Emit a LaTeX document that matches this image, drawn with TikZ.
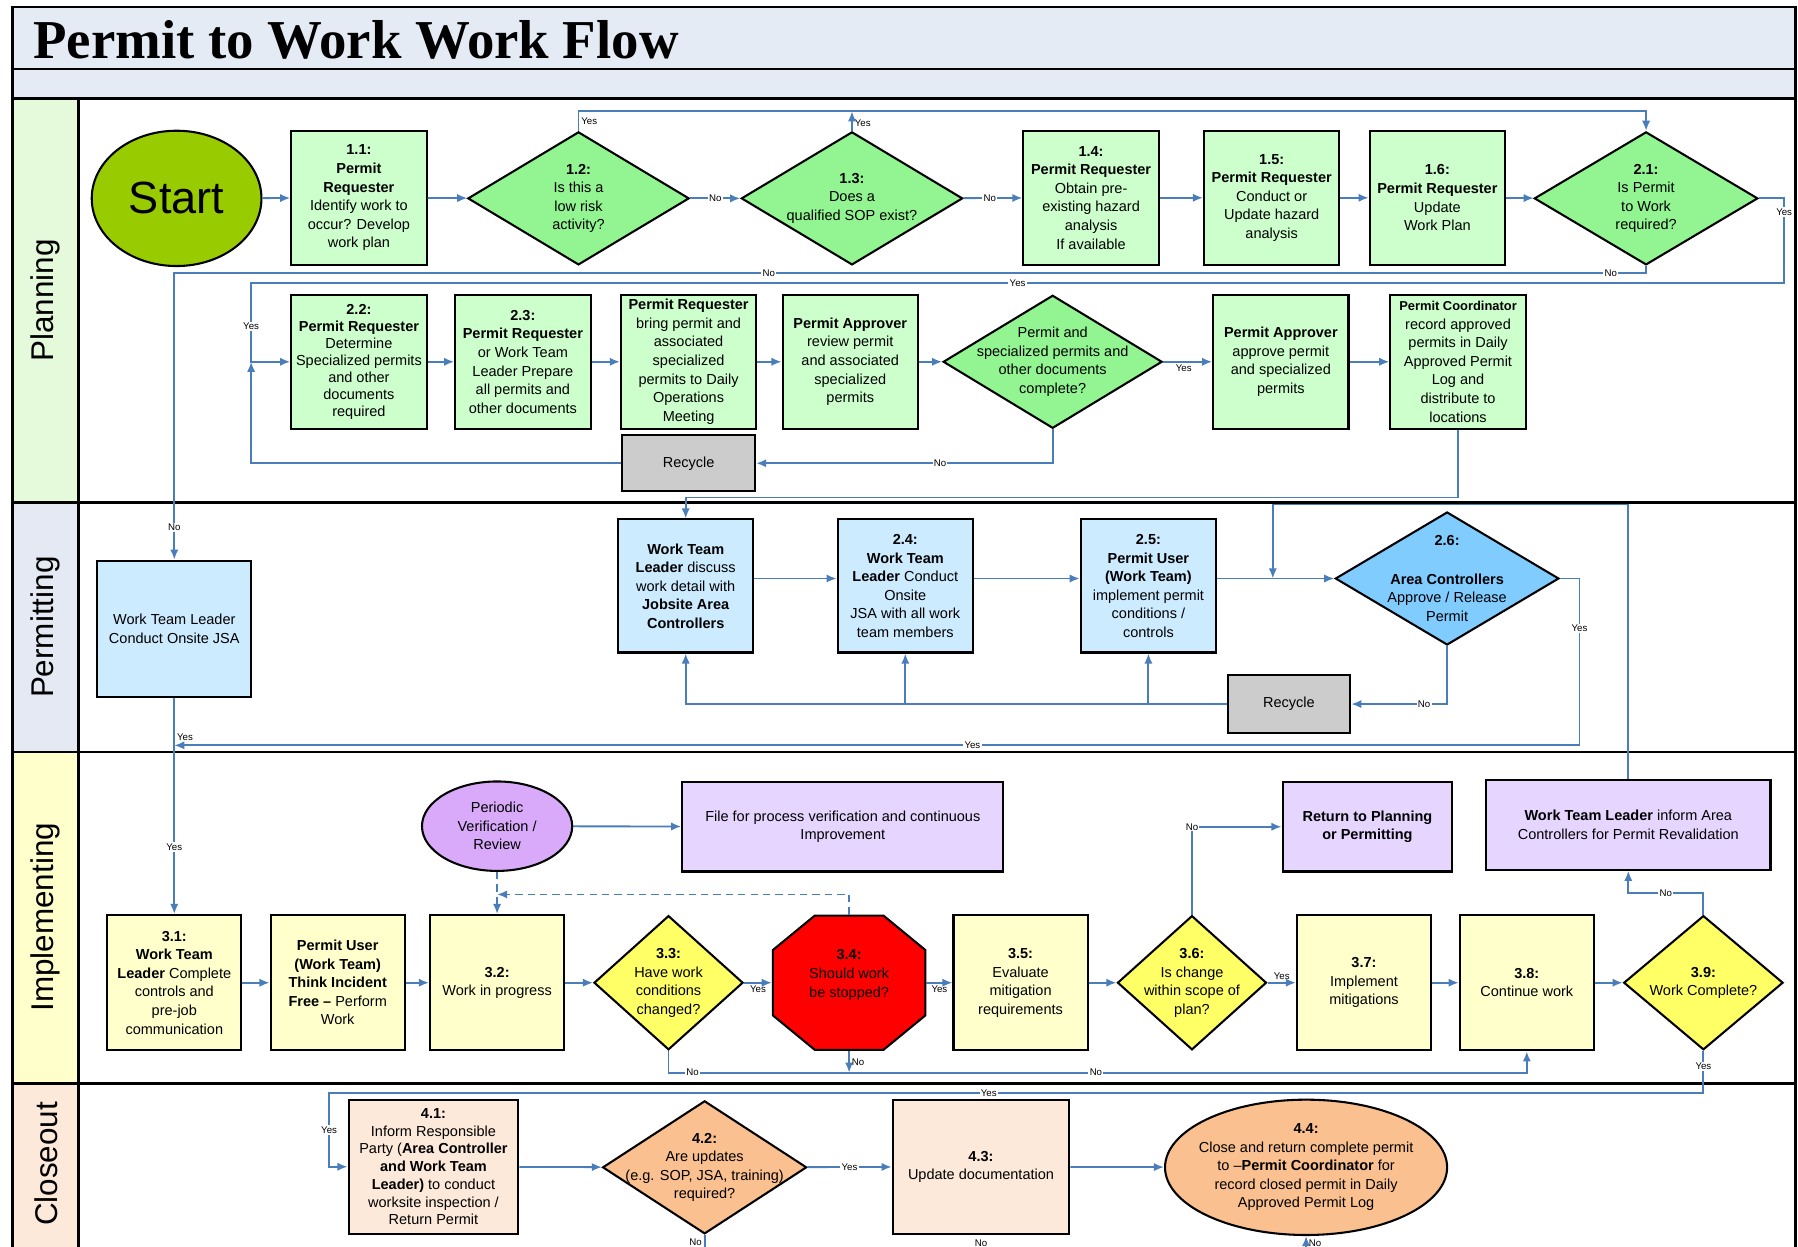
\documentclass[tikz,border=0pt]{standalone}
\usepackage{fontspec}
\setmainfont{Liberation Sans}
\newfontfamily\titlefont{Liberation Serif}
\usetikzlibrary{arrows.meta,shapes.geometric}

\definecolor{flowblue}{HTML}{4A7EBB}
\definecolor{titleblue}{HTML}{E4EBF5}
\definecolor{planfill}{HTML}{E5F9DB}
\definecolor{permfill}{HTML}{E4E9F3}
\definecolor{implfill}{HTML}{FFFFCC}
\definecolor{closefill}{HTML}{FDE9D9}
\definecolor{startgreen}{HTML}{99CC00}
\definecolor{boxgreen}{HTML}{CCFFCC}
\definecolor{diagreen}{HTML}{92F592}
\definecolor{boxblue}{HTML}{CCEBFF}
\definecolor{diablue}{HTML}{80CCFF}
\definecolor{recgray}{HTML}{CCCCCC}
\definecolor{boxyellow}{HTML}{FFFFCC}
\definecolor{diayellow}{HTML}{FFFF66}
\definecolor{stopred}{HTML}{FF0000}
\definecolor{perpurple}{HTML}{DAAAFA}
\definecolor{boxpurple}{HTML}{E6D6FF}
\definecolor{boxpeach}{HTML}{FDE9D9}
\definecolor{diaorange}{HTML}{FAC08F}

\tikzstyle{lane}=[draw=black, line width=0.55mm]
\tikzstyle{lanetitle}=[rotate=90, font=\fontsize{19.5}{20}\selectfont]
\tikzstyle{stepbox}=[rectangle, draw=black, line width=0.45mm, align=center, inner sep=1pt, font=\fontsize{9}{11.5}\selectfont]
\tikzstyle{planbox}=[stepbox, fill=boxgreen, minimum width=29.5mm, minimum height=29.25mm]
\tikzstyle{permbox}=[stepbox, fill=boxblue, minimum width=29.5mm, minimum height=29mm]
\tikzstyle{implbox}=[stepbox, fill=boxyellow, minimum width=29.25mm, minimum height=29.5mm]
\tikzstyle{notebox}=[stepbox, fill=boxpurple, minimum height=19.5mm]
\tikzstyle{closebox}=[stepbox, fill=boxpeach, minimum height=29.25mm]
\tikzstyle{recyclebox}=[stepbox, fill=recgray, minimum width=29mm, minimum height=12.25mm]
\tikzstyle{oval}=[ellipse, draw=black, line width=0.45mm, inner sep=0pt, align=center, font=\fontsize{9}{11.5}\selectfont]
\tikzstyle{decision}=[diamond, draw=black, line width=0.45mm, inner sep=0pt, minimum height=29mm]
\tikzstyle{dtext}=[align=center, font=\fontsize{9}{11.5}\selectfont, inner sep=0pt]
\tikzstyle{flow}=[draw=flowblue, line width=0.4mm, -{Latex[length=2.2mm,width=1.8mm]}]
\tikzstyle{link}=[draw=flowblue, line width=0.4mm]
\tikzstyle{dashflow}=[flow, dash pattern=on 1.6mm off 1.1mm]
\tikzstyle{lbl}=[font=\fontsize{6}{7}\selectfont, fill=white, inner sep=0.8pt]
\tikzstyle{lbs}=[font=\fontsize{6}{7}\selectfont, inner sep=1.2pt]

\newcommand{\planbox}{\node[planbox]}
\newcommand{\permbox}{\node[permbox]}
\newcommand{\implbox}{\node[implbox]}

\begin{document}
\begin{tikzpicture}[x=0.25mm, y=-0.25mm]
\clip (0,0) rectangle (1568,1087);
\fill[white] (0,0) rectangle (1568,1087);

% header bands
\filldraw[lane, fill=titleblue] (11,6) rectangle (1566,60);
\filldraw[lane, fill=titleblue] (11,60) rectangle (1566,86);
\node[anchor=base west, font=\titlefont\bfseries\fontsize{34}{36}\selectfont] (title) at (24,51) {Permit to Work Work Flow};

% swimlanes
\foreach \ya/\yb/\ym/\col/\name in {86/438/262/planfill/Planning, 438/656/547/permfill/Permitting, 656/945/800/implfill/Implementing, 945/1100/1015/closefill/Closeout}{
  \draw[lane] (11,\ya) rectangle (1566,\yb);
  \filldraw[lane, fill=\col] (11,\ya) rectangle (68.5,\yb);
  \node[lanetitle] (lane\name) at (40,\ym) {\name};
}

% planning
\node[oval, fill=startgreen, minimum width=37mm, minimum height=29.5mm, font=\fontsize{28}{30}\selectfont] (start) at (154,173) {Start};
\planbox (n11) at (313,172.5) {\textbf{1.1:}\\\textbf{Permit}\\\textbf{Requester}\\Identify work to\\occur? Develop\\work plan};
\node[decision, fill=diagreen, minimum width=48.25mm, label={[dtext]center:{\textbf{1.2:}\\Is this a\\low risk\\activity?}}] (n12) at (504.5,173) {};
\node[decision, fill=diagreen, minimum width=48.25mm, label={[dtext]center:{\textbf{1.3:}\\Does a\\qualified SOP exist?}}] (n13) at (743,173) {};
\planbox (n14) at (951.5,172.5) {\textbf{1.4:}\\\textbf{Permit Requester}\\Obtain pre-\\existing hazard\\analysis\\If available};
\planbox (n15) at (1109,172.5) {\textbf{1.5:}\\\textbf{Permit Requester}\\Conduct or\\Update hazard\\analysis};
\planbox (n16) at (1253.5,172.5) {\textbf{1.6:}\\\textbf{Permit Requester}\\Update\\Work Plan};
\node[decision, fill=diagreen, minimum width=48.75mm, label={[dtext]center:{\textbf{2.1:}\\Is Permit\\to Work\\required?}}] (n21) at (1435.5,173) {};

\node[planbox, font=\fontsize{9}{10.6}\selectfont] (n22) at (313,315.5) {\textbf{2.2:}\\\textbf{Permit Requester}\\Determine\\Specialized permits\\and other\\documents\\required};
\planbox (n23) at (456,315.5) {\textbf{2.3:}\\\textbf{Permit Requester}\\or Work Team\\Leader Prepare\\all permits and\\other documents};
\planbox (bring) at (600.5,315.5) {\textbf{Permit Requester}\\bring permit and\\associated\\specialized\\permits to Daily\\Operations\\Meeting};
\planbox (review) at (741.5,315.5) {\textbf{Permit Approver}\\review permit\\and associated\\specialized\\permits};
\node[decision, fill=diagreen, minimum width=47.75mm, label={[dtext]center:{Permit and\\specialized permits and\\other documents\\complete?}}] (doccheck) at (918,315.5) {};
\planbox (approve) at (1117,315.5) {\textbf{Permit Approver}\\approve permit\\and specialized\\permits};
\planbox (coord) at (1271.5,315.5) {{\fontsize{8}{9}\selectfont\textbf{Permit Coordinator}}\\record approved\\permits in Daily\\Approved Permit\\Log and\\distribute to\\locations};
\node[recyclebox] (rec1) at (600.5,404) {Recycle};

% permitting
\node[permbox, minimum width=33.5mm, minimum height=29.75mm] (jsa) at (152,548.5) {Work Team Leader\\Conduct Onsite JSA};
\permbox (disc) at (598,511) {\textbf{Work Team}\\\textbf{Leader} discuss\\work detail with\\\textbf{Jobsite Area}\\\textbf{Controllers}};
\permbox (n24) at (789.5,511) {\textbf{2.4:}\\\textbf{Work Team}\\\textbf{Leader} Conduct\\Onsite\\JSA with all work\\team members};
\permbox (n25) at (1001.5,511) {\textbf{2.5:}\\\textbf{Permit User}\\\textbf{(Work Team)}\\implement permit\\conditions /\\controls};
\node[decision, fill=diablue, minimum width=48.75mm, label={[dtext]center:{\textbf{2.6:}\\[4.4mm]\textbf{Area Controllers}\\Approve / Release\\Permit}}] (n26) at (1262,504.5) {};
\node[recyclebox, minimum width=26.75mm, minimum height=12.5mm] (rec2) at (1124,614) {Recycle};

% implementing
\node[oval, fill=perpurple, minimum width=32.75mm, minimum height=19.5mm] (per) at (433.5,720.5) {Periodic\\Verification /\\Review};
\node[notebox, minimum width=70mm] (file) at (735,721) {File for process verification and continuous\\Improvement};
\node[notebox, minimum width=37mm] (ret) at (1192.5,721) {\textbf{Return to Planning}\\\textbf{or Permitting}};
\node[notebox, minimum width=62mm] (wtl) at (1420,719.5) {\textbf{Work Team Leader} inform Area\\Controllers for Permit Revalidation};

\implbox (n31) at (152,857) {\textbf{3.1:}\\\textbf{Work Team}\\\textbf{Leader} Complete\\controls and\\pre-job\\communication};
\implbox (pu) at (294.5,857) {\textbf{Permit User}\\\textbf{(Work Team)}\\\textbf{Think Incident}\\\textbf{Free –} Perform\\Work};
\implbox (n32) at (433.5,857) {\textbf{3.2:}\\Work in progress};
\node[decision, fill=diayellow, minimum width=32.5mm, minimum height=29.25mm, label={[dtext]center:{\textbf{3.3:}\\Have work\\conditions\\changed?}}] (n33) at (583,857) {};
\filldraw[fill=stopred, draw=black, line width=0.45mm] (710.5,798.5) -- (770.5,798.5) -- (807,828.5) -- (807,885.5) -- (770.5,915.5) -- (710.5,915.5) -- (674,885.5) -- (674,828.5) -- cycle;
\node[stepbox, draw=none, minimum width=33.25mm, minimum height=29.25mm] (n34) at (740.5,857) {\textbf{3.4:}\\Should work\\be stopped?\\\mbox{}};
\implbox (n35) at (890,857) {\textbf{3.5:}\\Evaluate\\mitigation\\requirements};
\node[decision, fill=diayellow, minimum width=32.5mm, minimum height=29.25mm, label={[dtext]center:{\textbf{3.6:}\\Is change\\within scope of\\plan?}}] (n36) at (1039.5,857) {};
\implbox (n37) at (1189.5,857) {\textbf{3.7:}\\Implement\\mitigations};
\implbox (n38) at (1331.5,857) {\textbf{3.8:}\\Continue work};
\node[decision, fill=diayellow, minimum width=34.75mm, minimum height=29.25mm, label={[dtext]center:{\textbf{3.9:}\\Work Complete?}}] (n39) at (1485.5,857) {};

% closeout
\node[closebox, minimum width=37mm, font=\fontsize{9}{11}\selectfont] (n41) at (378,1017.5) {\textbf{4.1:}\\Inform Responsible\\Party (\textbf{Area Controller}\\\textbf{and Work Team}\\\textbf{Leader)} to conduct\\worksite inspection /\\Return Permit};
\node[decision, fill=diaorange, minimum width=44.5mm, label={[dtext]center:{\textbf{4.2:}\\Are updates\\(e.g. SOP, JSA, training)\\required?}}] (n42) at (614.5,1018) {};
\node[closebox, minimum width=38.5mm] (n43) at (855.5,1017.5) {\textbf{4.3:}\\Update documentation};
\node[oval, fill=diaorange, minimum width=61.5mm, minimum height=29.5mm, label={[dtext]center:{\textbf{4.4:}\\Close and return complete permit\\to –\textbf{Permit Coordinator} for\\record closed permit in Daily\\Approved Permit Log}}] (n44) at (1139,1018) {};

% bends and free ends
\coordinate (yescorner) at (219,247);
\coordinate (loopx) at (219,315.5);
\coordinate (yesjoin) at (152,650);
\coordinate (top26) at (1110,440);
\coordinate (join26) at (1110,504.5);
\coordinate (dashc) at (433.5,780);
\coordinate (yes41) at (287,1017.5);
\coordinate (end42) at (614.5,1090);
\coordinate (end44) at (1139,1090);

% planning flow
\draw[flow] (start) -- (n11);
\draw[flow] (n11) -- (n12);
\draw[flow] (n12) -- node[lbl]{No} (n13);
\draw[flow] (n13) -- node[lbl,pos=0.45]{No} (n14);
\draw[flow] (n14) -- (n15);
\draw[flow] (n15) -- (n16);
\draw[flow] (n16) -- (n21);
\draw[flow] (n12.north) -- node[lbs,anchor=west]{Yes} ++(0,-17) -| (n21.north);
\draw[flow] (n13.north) -- node[lbs,anchor=west,pos=0.4]{Yes} ++(0,-17);
\draw[flow] (n21.south) -- ++(0,6) -| node[lbl,pos=0.012]{No} node[lbl,pos=0.298]{No} node[lbl,pos=0.944]{No} (jsa.north);
\draw[flow] (n21.east) -- ++(22,0) -- node[lbl,pos=0.16]{Yes} ++(0,74) -- node[lbl]{Yes} (yescorner) -- node[lbl,pos=0.55]{Yes} (loopx) -- (n22.west);
\draw[flow] (rec1.west) -| (loopx);
\draw[flow] (n22) -- (n23);
\draw[flow] (n23) -- (bring);
\draw[flow] (bring) -- (review);
\draw[flow] (review) -- (doccheck);
\draw[flow] (doccheck) -- node[lbs,below,pos=0.42]{Yes} (approve);
\draw[flow] (approve) -- (coord);
\draw[flow] (doccheck.south) |- node[lbl,pos=0.69]{No} (rec1.east);
\draw[flow] (coord.south) -- ++(0,59) -| (disc.north);

% permitting flow
\draw[flow] (disc.east |- n26) -- (n24.west |- n26);
\draw[flow] (n24.east |- n26) -- (n25.west |- n26);
\draw[flow] (n25.east |- n26) -- (n26.west);
\draw[flow] (n26.east) -- ++(17,0) |- node[lbl,pos=0.15]{Yes} node[lbl,pos=0.716]{Yes} (yesjoin);
\draw[flow] (n26.south) |- node[lbl,pos=0.62]{No} (rec2.east);
\draw[flow] (rec2.west) -| (disc.south);
\draw[flow] (n24.south |- rec2.west) -- (n24.south);
\draw[flow] (n25.south |- rec2.west) -- (n25.south);
\draw[flow] (jsa.south) -- node[lbs,anchor=west,pos=0.18]{Yes} node[lbl,pos=0.69]{Yes} (n31.north);
\draw[flow] (wtl.north) |- (top26) -- (join26);

% implementing flow
\draw[flow] (per) -- (file);
\draw[flow] (n31) -- (pu);
\draw[flow] (pu) -- (n32);
\draw[flow] (n32) -- (n33);
\draw[flow] (n33) -- node[lbs,below]{Yes} (n34);
\draw[flow] (n34) -- node[lbs,below]{Yes} (n35);
\draw[flow] (n35) -- (n36);
\draw[flow] (n36) -- node[lbs,above]{Yes} (n37);
\draw[flow] (n37) -- (n38);
\draw[flow] (n38) -- (n39);
\draw[flow] (n33.south) -- ++(0,19) -| node[lbl,pos=0.014]{No} node[lbl,pos=0.249]{No} (n38.south);
\draw[flow] (n34.south) -- node[lbs,anchor=west]{No} ++(0,19);
\draw[dashflow] (n34.north) |- (dashc);
\draw[dashflow] (per.south) -- (n32.north);
\draw[flow] (n36.north) |- node[lbl]{No} (ret.west);
\draw[flow] (n39.north) -- ++(0,-19) -| node[lbl,pos=0.25]{No} (wtl.south);
\draw[flow] (n39.south) -- node[lbl,pos=0.37]{Yes} ++(0,37) -| node[lbl,pos=0.26]{Yes} node[lbl,pos=0.75]{Yes} (yes41) -- (n41.west);

% closeout flow
\draw[flow] (n41) -- (n42);
\draw[flow] (n42) -- node[lbl]{Yes} (n43);
\draw[flow] (n43) -- (n44);
\draw[link] (n42.south) -- node[lbs,anchor=east]{No} (end42);
\path (n43.south) -- node[lbs]{No} ++(0,14);
\draw[flow] (end44) -- node[lbs,anchor=west]{No} (n44.south);
\end{tikzpicture}
\end{document}
